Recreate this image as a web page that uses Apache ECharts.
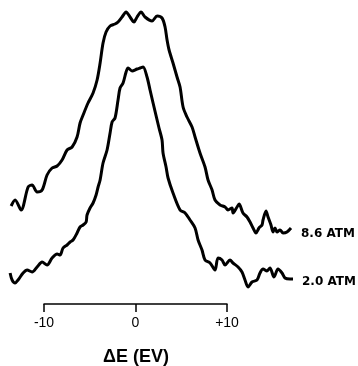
<!DOCTYPE html>
<html><head><meta charset="utf-8">
<script src="https://cdn.jsdelivr.net/npm/echarts@6/dist/echarts.min.js"></script>
<style>html,body{margin:0;padding:0;background:#fff}#c{width:358px;height:366px}</style>
</head><body><div id="c"></div>
<script>
// 8.6 ATM spectrum: energy shift (eV) and intensity (arb. units)
const eV_86 = [-13.66,-13.22,-12.57,-11.80,-11.37,-10.82,-10.27,-9.73,-9.18,-8.63,-8.09,-7.54,-6.99,-6.45,-6.12,-5.79,-5.25,-4.70,-4.26,-3.93,-3.61,-3.28,-2.84,-2.30,-1.97,-1.53,-1.09,-0.66,-0.22,0.11,0.55,0.98,1.75,2.30,2.84,3.17,3.39,3.61,4.04,4.48,4.81,5.14,5.57,6.12,6.45,6.99,7.54,7.87,8.31,8.63,9.18,9.73,10.05,10.49,10.60,11.04,11.26,11.69,12.13,12.46,12.79,13.11,13.44,13.77,13.88,14.21,14.43,14.75,14.97,15.19,15.41,15.74,16.07,16.50,16.94];
const int_86 = [104,110,100,123,125,118,120,135,142,144,150,160,163,173,187,195,207,217,230,247,267,278,284,286,288,293,298,293,288,293,298,293,289,294,292,283,270,260,247,233,223,203,193,183,173,157,143,130,120,110,105,103,100,102,97,103,106,97,93,88,82,77,82,85,90,99,93,85,78,82,78,80,77,78,82];
// 2.0 ATM spectrum
const eV_20 = [-13.77,-13.55,-13.22,-12.90,-12.35,-11.91,-11.37,-10.82,-10.27,-9.73,-9.18,-8.63,-8.31,-7.98,-7.54,-7.21,-6.89,-6.45,-6.12,-5.79,-5.46,-5.36,-5.03,-4.70,-4.37,-4.15,-3.93,-3.61,-3.17,-2.84,-2.62,-2.30,-1.97,-1.75,-1.42,-1.09,-0.87,-0.44,0.11,0.44,0.77,1.20,1.53,1.86,2.30,2.51,2.84,2.95,3.28,3.50,4.04,4.81,5.36,5.90,6.45,6.78,7.21,7.54,8.09,8.63,8.96,9.40,9.73,10.27,10.60,11.15,11.58,11.91,12.24,12.68,13.22,13.55,13.88,14.32,14.64,15.08,15.52,15.96,16.28,16.83,17.16];
const int_20 = [37,30,27,30,37,40,38,43,48,45,52,56,55,62,65,68,70,77,83,85,88,95,102,107,115,123,130,147,160,177,188,192,210,222,227,238,242,239,241,242,243,233,220,207,190,182,170,157,143,132,117,100,97,90,82,70,60,50,47,40,52,50,45,50,47,43,38,30,23,28,30,37,41,39,42,33,41,37,32,31,31];
const seriesNames = ['8.6 ATM', '2.0 ATM'];
const tickValues = [-10, 0, 10];
const tickLabels = ['-10', '0', '+10'];
const axisTitle = 'ΔE (EV)';

const zip = (a, b) => a.map((v, i) => [v, b[i]]);
const chart = echarts.init(document.getElementById('c'), null, {renderer: 'canvas'});
const lineStyle = {color: '#000', width: 3};
const labelFont = {color: '#000', fontSize: 12, fontWeight: 'bold', fontFamily: '"DejaVu Sans", sans-serif'};
chart.setOption({
  animation: false,
  backgroundColor: '#fff',
  grid: [
    {left: 8, right: 39, top: 10, bottom: 56},
    {left: 44, width: 183, top: 200, bottom: 62}
  ],
  xAxis: [
    {gridIndex: 0, type: 'value', min: -14, max: 20, show: false},
    {gridIndex: 1, type: 'value', min: -10, max: 10, interval: 10,
     axisLine: {show: true, lineStyle: {color: '#000', width: 1.5}},
     axisTick: {show: true, length: 8, lineStyle: {color: '#000', width: 1.5}},
     splitLine: {show: false},
     axisLabel: {color: '#000', fontSize: 14, fontFamily: 'Liberation Sans, Arial, sans-serif', margin: 12,
       formatter: v => { const i = tickValues.indexOf(v); return i >= 0 ? tickLabels[i] : ''; }}}
  ],
  yAxis: [
    {gridIndex: 0, type: 'value', min: 0, max: 300, show: false},
    {gridIndex: 1, type: 'value', min: 0, max: 1, show: false}
  ],
  graphic: [{
    type: 'text', x: 136, y: 357,
    style: {text: axisTitle, fill: '#000', textAlign: 'center', textVerticalAlign: 'middle',
      font: 'bold 18px "Liberation Sans", Arial, sans-serif'}
  }],
  series: [
    {type: 'line', name: seriesNames[0], xAxisIndex: 0, yAxisIndex: 0, data: zip(eV_86, int_86),
     showSymbol: false, smooth: 0.3, clip: false, lineStyle,
     endLabel: Object.assign({show: true, formatter: seriesNames[0], distance: 10, offset: [0, 6]}, labelFont)},
    {type: 'line', name: seriesNames[1], xAxisIndex: 0, yAxisIndex: 0, data: zip(eV_20, int_20),
     showSymbol: false, smooth: 0.3, clip: false, lineStyle,
     endLabel: Object.assign({show: true, formatter: seriesNames[1], distance: 9, offset: [0, 3]}, labelFont)},
    {type: 'line', xAxisIndex: 1, yAxisIndex: 1, data: []}
  ]
});
</script></body></html>
